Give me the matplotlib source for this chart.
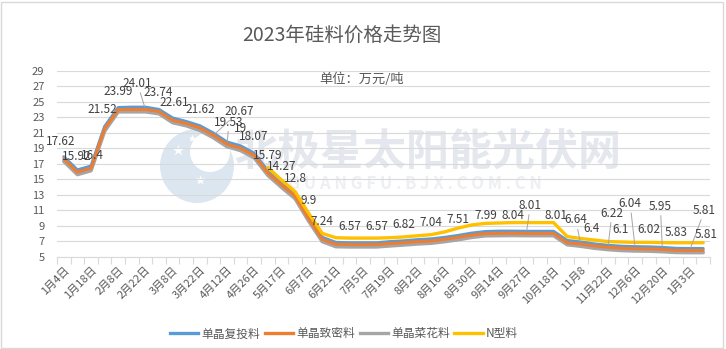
import numpy as np
import matplotlib.pyplot as plt
from matplotlib.lines import Line2D
from matplotlib.patches import Circle, Rectangle

plt.rcParams['font.family'] = ['Noto Sans CJK SC', 'DejaVu Sans']

# x axis: weekly quotes, every second date is printed
tick_dates = ["1月4日", "1月18日", "2月8日", "2月22日", "3月8日", "3月22日",
              "4月12日", "4月26日", "5月17日", "6月7日", "6月21日", "7月5日",
              "7月19日", "8月2日", "8月16日", "8月30日", "9月14日", "9月27日",
              "10月18日", "11月8", "11月22日", "12月6日", "12月20日", "1月3日"]

# prices, 万元/吨
futou = [17.9, 16.2, 16.7, 21.8, 24.25, 24.3, 24.3, 24.0, 22.9, 22.45,
         21.9, 20.95, 19.8, 19.3, 18.35, 16.05, 14.55, 13.1, 10.2, 7.5,
         6.85, 6.8, 6.8, 6.8, 6.95, 7.05, 7.2, 7.3, 7.5, 7.75,
         8.05, 8.25, 8.3, 8.3, 8.28, 8.28, 8.28, 7.1, 6.9, 6.65,
         6.47, 6.35, 6.3, 6.27, 6.2, 6.08, 6.06, 6.06]
zhimi = [17.62, 15.92, 16.4, 21.52, 23.99, 24.0, 24.01, 23.74, 22.61, 22.2,
         21.62, 20.67, 19.53, 19.0, 18.07, 15.79, 14.27, 12.8, 9.9, 7.24,
         6.6, 6.57, 6.57, 6.57, 6.7, 6.82, 6.95, 7.04, 7.25, 7.51,
         7.8, 7.99, 8.02, 8.04, 8.01, 8.01, 8.01, 6.8, 6.64, 6.4,
         6.22, 6.1, 6.04, 6.02, 5.95, 5.83, 5.81, 5.81]
caihua = [17.3, 15.6, 16.1, 21.2, 23.7, 23.7, 23.7, 23.45, 22.3, 21.9,
          21.3, 20.35, 19.2, 18.7, 17.75, 15.5, 13.95, 12.5, 9.6, 6.95,
          6.3, 6.27, 6.27, 6.27, 6.4, 6.52, 6.65, 6.74, 6.95, 7.2,
          7.5, 7.7, 7.72, 7.74, 7.72, 7.72, 7.72, 6.55, 6.35, 6.1,
          5.92, 5.8, 5.74, 5.72, 5.65, 5.55, 5.53, 5.53]
n_type = [np.nan] * 15 + [16.5, 14.9, 13.4, 10.6, 8.0,
          7.45, 7.4, 7.4, 7.4, 7.45, 7.55, 7.7, 7.85, 8.2, 8.7,
          9.1, 9.3, 9.35, 9.4, 9.4, 9.4, 9.4, 7.6, 7.35, 7.15,
          6.95, 6.9, 6.85, 6.85, 6.82, 6.8, 6.8, 6.8]

# weeks that carry a value label on the 致密料 line
label_idx = [0, 1, 2, 3, 4, 6, 7, 8, 10, 11, 12, 13, 14, 15, 16, 17, 18, 19,
             21, 23, 25, 27, 29, 31, 33, 34, 36,
             38, 39, 40, 41, 42, 43, 44, 45, 46, 47]

series_names = ["单晶复投料", "单晶致密料", "单晶菜花料", "N型料"]
colors = ["#5B9BD5", "#ED7D31", "#A5A5A5", "#FFC000"]

text_c = "#595959"
grid_c = "#D9D9D9"

fig = plt.figure(figsize=(7.26, 3.49), dpi=100)
W, H = 726, 349
ax = fig.add_axes([57 / W, 1 - 256.7 / H, (710 - 57) / W, (256.7 - 70.7) / H])
ax.set_zorder(2)
ax.set_facecolor("none")

# watermark behind the plot: logo disc with little stars, then the site name
inch = fig.dpi_scale_trans
fig.patches.append(Circle((1.97, (H - 166) / 100), 0.37, transform=inch,
                          facecolor="#DCE6F0", edgecolor="none", zorder=0.5))
fig.patches.append(Circle((2.10, (H - 152) / 100), 0.2, transform=inch,
                          facecolor="white", edgecolor="none", zorder=0.55))
for sx, sy, ss in [(1.78, H - 150, 9), (1.92, H - 138, 6), (2.0, H - 180, 7)]:
    fig.lines.append(Line2D([sx], [sy / 100], transform=inch, marker="*", ms=ss,
                            color="white", mec="none", zorder=0.6))
fig.text(428 / W, 1 - 152 / H, "北极星太阳能光伏网", fontsize=31, fontweight="bold",
         fontstyle="italic", color="#E4E8EE", ha="center", va="center", zorder=0.6)
fig.text(415 / W, 1 - 184 / H, "G U A N G F U . B J X . C O M . C N", fontsize=12,
         fontweight="bold", color="#EDEFF2", ha="center", va="center", zorder=0.6)

x = np.arange(len(zhimi))
ax.plot(x, caihua, color=colors[2], lw=2.6, solid_capstyle="round", zorder=3)
ax.plot(x, futou, color=colors[0], lw=2.2, solid_capstyle="round", zorder=3.1)
ax.plot(x, zhimi, color=colors[1], lw=2.2, solid_capstyle="round", zorder=3.2)
ax.plot(x, n_type, color=colors[3], lw=2.4, solid_capstyle="round", zorder=3.3)

# label offsets in pixels (dx, dy); the rest sit straight above the point
offsets = {0: (-3, 17), 1: (-1, 16), 2: (1, 13), 3: (-2, 19), 6: (-8, 26),
           7: (-1, 19), 8: (2, 18), 11: (26, 24), 12: (2, 22), 13: (0, 20),
           14: (-1, 19), 34: (4, 28), 36: (2, 18), 38: (-5, 24), 39: (-3, 17),
           40: (4, 34), 41: (-1, 19), 42: (-5, 45), 43: (0, 19), 44: (-2, 43),
           46: (15, 40), 47: (3, 16)}
leaders = {6, 11, 12, 34, 38, 40, 42, 44, 46}

for i in label_idx:
    dx, dy = offsets.get(i, (0, 18))
    arrow = dict(arrowstyle="-", color="#A6A6A6", lw=0.7, shrinkA=0, shrinkB=2) if i in leaders else None
    ax.annotate(f"{zhimi[i]:g}", xy=(i, zhimi[i]), xytext=(dx, dy),
                textcoords="offset pixels", ha="center", va="center",
                fontsize=8.5, color="#404040", arrowprops=arrow, zorder=5)

ax.set_xlim(-0.5, len(zhimi) - 0.5)
ax.set_ylim(5, 29)
ax.set_yticks(np.arange(5, 30, 2))
ax.grid(axis="y", color=grid_c, lw=0.8, zorder=0.8)
ax.set_axisbelow(True)

ax.set_xticks(np.arange(0, len(zhimi), 2))
ax.set_xticklabels(tick_dates, rotation=45, ha="right", rotation_mode="anchor")
ax.set_xticks(np.arange(-0.5, len(zhimi), 1), minor=True)
ax.tick_params(axis="x", which="major", length=0, pad=6, labelsize=8, labelcolor=text_c)
ax.tick_params(axis="x", which="minor", length=5, color=grid_c, width=0.8)
ax.tick_params(axis="y", length=0, pad=9, labelsize=8, labelcolor=text_c)

for side in ["top", "right", "left"]:
    ax.spines[side].set_visible(False)
ax.spines["bottom"].set_color(grid_c)
ax.spines["bottom"].set_linewidth(0.8)

fig.text(342 / W, 1 - 35 / H, "2023年硅料价格走势图", fontsize=14, color=text_c,
         ha="center", va="center")
fig.text(362 / W, 1 - 79 / H, "单位：万元/吨", fontsize=9.5, color=text_c,
         ha="center", va="center", zorder=3)

handles = [Line2D([0], [0], color=c, lw=2.4) for c in colors]
fig.legend(handles, series_names, loc="center", bbox_to_anchor=(344 / W, 1 - 334 / H),
           ncol=4, frameon=False, fontsize=8.5, labelcolor=text_c, handlelength=2.4,
           handletextpad=0.25, columnspacing=0.4)

fig.patches.append(Rectangle((0.5 / W, 1.5 / H), 722.5 / W, 346 / H, transform=fig.transFigure,
                             facecolor="none", edgecolor=grid_c, lw=1))

fig.savefig("out.png", dpi=100)
